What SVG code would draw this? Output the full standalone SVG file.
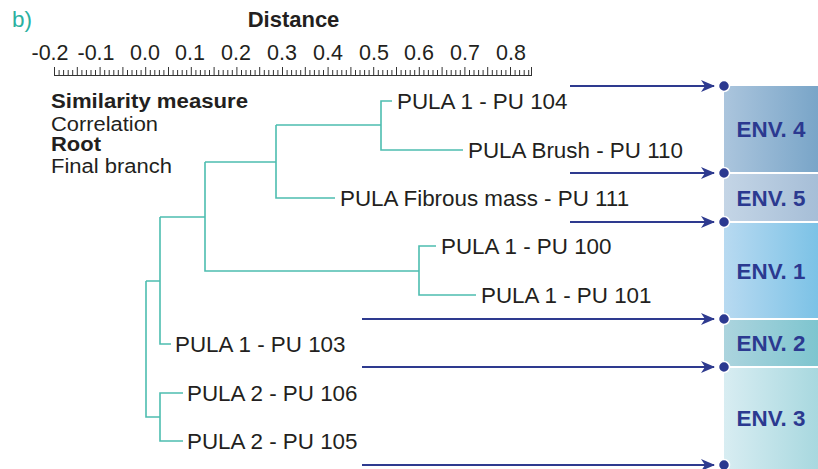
<svg xmlns="http://www.w3.org/2000/svg" width="818" height="469" viewBox="0 0 818 469">
<style>
text{font-family:"Liberation Sans",Arial,sans-serif;}
.lbl{font-size:22.4px;fill:#231f20;}
.lg{font-size:20px;fill:#231f20;}
.ax{font-size:21.5px;fill:#231f20;text-anchor:middle;}
.b{font-weight:bold;}
.env{font-size:22.4px;font-weight:bold;fill:#2b3990;text-anchor:middle;}
.den{fill:none;stroke:#4dbdb0;stroke-width:1.6;}
.arr{fill:none;stroke:#2e3a8f;stroke-width:2;marker-end:url(#ah);}
.dot{fill:#2b3990;stroke:#fff;stroke-width:1.5;}
.tk{stroke:#333;stroke-width:1;}
</style>
<defs>
<marker id="ah" viewBox="0 0 14 12" refX="13" refY="6" markerWidth="14" markerHeight="12" markerUnits="userSpaceOnUse" orient="auto">
<path d="M0,0 L14,6 L0,12 L4,6 z" fill="#2e3a8f"/>
</marker>
<linearGradient id="g4" x1="0" y1="0" x2="1" y2="0"><stop offset="0" stop-color="#abc5dd"/><stop offset="1" stop-color="#79a5c8"/></linearGradient>
<linearGradient id="g5" x1="0" y1="0" x2="1" y2="0"><stop offset="0" stop-color="#c4d5e6"/><stop offset="1" stop-color="#a6bed7"/></linearGradient>
<linearGradient id="g1" x1="0" y1="0" x2="1" y2="0"><stop offset="0" stop-color="#b8daf1"/><stop offset="1" stop-color="#7cc2e6"/></linearGradient>
<linearGradient id="g2" x1="0" y1="0" x2="1" y2="0"><stop offset="0" stop-color="#acd4de"/><stop offset="1" stop-color="#7ec5cf"/></linearGradient>
<linearGradient id="g3" x1="0" y1="0" x2="1" y2="0"><stop offset="0" stop-color="#d8edf2"/><stop offset="1" stop-color="#a8d8df"/></linearGradient>
</defs>
<rect width="818" height="469" fill="#fff"/>

<text x="12" y="27" style="font-size:22.5px;fill:#2ab0a0">b)</text>
<text x="293.5" y="27" class="b" style="font-size:22px;fill:#231f20" text-anchor="middle">Distance</text>

<g id="axis">
<text x="50" y="60" class="ax">-0.2</text>
<text x="96" y="60" class="ax">-0.1</text>
<text x="145" y="60" class="ax">0.0</text>
<text x="190" y="60" class="ax">0.1</text>
<text x="236" y="60" class="ax">0.2</text>
<text x="282" y="60" class="ax">0.3</text>
<text x="328" y="60" class="ax">0.4</text>
<text x="374" y="60" class="ax">0.5</text>
<text x="419" y="60" class="ax">0.6</text>
<text x="465" y="60" class="ax">0.7</text>
<text x="511" y="60" class="ax">0.8</text>
<line x1="54" y1="75.5" x2="532" y2="75.5" class="tk"/>
<path class="tk" d="M54.5,67V76 M77.3,67V76 M100.1,67V76 M122.9,67V76 M145.7,67V76 M168.5,67V76 M191.3,67V76 M214.1,67V76 M236.9,67V76 M259.7,67V76 M282.5,67V76 M305.3,67V76 M328.1,67V76 M350.9,67V76 M373.7,67V76 M396.5,67V76 M419.3,67V76 M442.1,67V76 M464.9,67V76 M487.7,67V76 M510.5,67V76 M531.5,67V76"/>
<path class="tk" d="M59.1,70V76 M63.6,70V76 M68.2,70V76 M72.7,70V76 M81.9,70V76 M86.4,70V76 M91,70V76 M95.5,70V76 M104.7,70V76 M109.2,70V76 M113.8,70V76 M118.3,70V76 M127.5,70V76 M132,70V76 M136.6,70V76 M141.1,70V76 M150.3,70V76 M154.8,70V76 M159.4,70V76 M163.9,70V76 M173.1,70V76 M177.6,70V76 M182.2,70V76 M186.7,70V76 M195.9,70V76 M200.4,70V76 M205,70V76 M209.5,70V76 M218.7,70V76 M223.2,70V76 M227.8,70V76 M232.3,70V76 M241.5,70V76 M246,70V76 M250.6,70V76 M255.1,70V76 M264.3,70V76 M268.8,70V76 M273.4,70V76 M277.9,70V76 M287.1,70V76 M291.6,70V76 M296.2,70V76 M300.7,70V76 M309.9,70V76 M314.4,70V76 M319,70V76 M323.5,70V76 M332.7,70V76 M337.2,70V76 M341.8,70V76 M346.3,70V76 M355.5,70V76 M360,70V76 M364.6,70V76 M369.1,70V76 M378.3,70V76 M382.8,70V76 M387.4,70V76 M391.9,70V76 M401.1,70V76 M405.6,70V76 M410.2,70V76 M414.7,70V76 M423.9,70V76 M428.4,70V76 M433,70V76 M437.5,70V76 M446.7,70V76 M451.2,70V76 M455.8,70V76 M460.3,70V76 M469.5,70V76 M474,70V76 M478.6,70V76 M483.1,70V76 M492.3,70V76 M496.8,70V76 M501.4,70V76 M505.9,70V76 M515.1,70V76 M519.6,70V76 M524.2,70V76 M528.7,70V76"/>
</g>

<g id="legend">
<text x="51" y="108" class="lg b" textLength="197" lengthAdjust="spacingAndGlyphs">Similarity measure</text>
<text x="51" y="130.5" class="lg" textLength="107" lengthAdjust="spacingAndGlyphs">Correlation</text>
<text x="51" y="151" class="lg b" textLength="50" lengthAdjust="spacingAndGlyphs">Root</text>
<text x="51" y="173" class="lg" textLength="121" lengthAdjust="spacingAndGlyphs">Final branch</text>
</g>

<g id="connectors">
<path class="den" d="M392,101H381V150H463 M381,125H276 M276,125V198H335 M276,162H205 M205,162V271H419 M436,246H419V295H476 M205,217H160 M160,217V344H171 M160,281H146 M146,281V417H160 M183,393H160V441H183"/>
<line class="arr" x1="570" y1="86" x2="714" y2="86"/>
<line class="arr" x1="570" y1="173" x2="714" y2="173"/>
<line class="arr" x1="570" y1="222" x2="714" y2="222"/>
<line class="arr" x1="362" y1="319" x2="714" y2="319"/>
<line class="arr" x1="362" y1="367" x2="714" y2="367"/>
<line class="arr" x1="362" y1="465" x2="714" y2="465"/>
</g>

<g id="leaves">
<text x="397" y="109" class="lbl">PULA 1 - PU 104</text>
<text x="468" y="158" class="lbl">PULA Brush - PU 110</text>
<text x="340" y="206" class="lbl">PULA Fibrous mass - PU 111</text>
<text x="441" y="254" class="lbl">PULA 1 - PU 100</text>
<text x="481" y="303" class="lbl">PULA 1 - PU 101</text>
<text x="175" y="352" class="lbl">PULA 1 - PU 103</text>
<text x="187" y="401" class="lbl">PULA 2 - PU 106</text>
<text x="187" y="449" class="lbl">PULA 2 - PU 105</text>
</g>

<g id="env4"><rect x="724" y="86" width="94" height="86" fill="url(#g4)"/><text x="771" y="137" class="env">ENV. 4</text></g>
<g id="env5"><rect x="724" y="174" width="94" height="47" fill="url(#g5)"/><text x="771" y="205.5" class="env">ENV. 5</text></g>
<g id="env1"><rect x="724" y="223" width="94" height="95" fill="url(#g1)"/><text x="771" y="278.5" class="env">ENV. 1</text></g>
<g id="env2"><rect x="724" y="320" width="94" height="46" fill="url(#g2)"/><text x="771" y="351" class="env">ENV. 2</text></g>
<g id="env3"><rect x="724" y="368" width="94" height="101" fill="url(#g3)"/><text x="771" y="426" class="env">ENV. 3</text></g>

<g id="dots">
<circle class="dot" cx="724" cy="86" r="5.5"/>
<circle class="dot" cx="724" cy="173" r="5.5"/>
<circle class="dot" cx="724" cy="222" r="5.5"/>
<circle class="dot" cx="724" cy="319" r="5.5"/>
<circle class="dot" cx="724" cy="367" r="5.5"/>
<circle class="dot" cx="724" cy="465" r="5.5"/>
</g>
</svg>
